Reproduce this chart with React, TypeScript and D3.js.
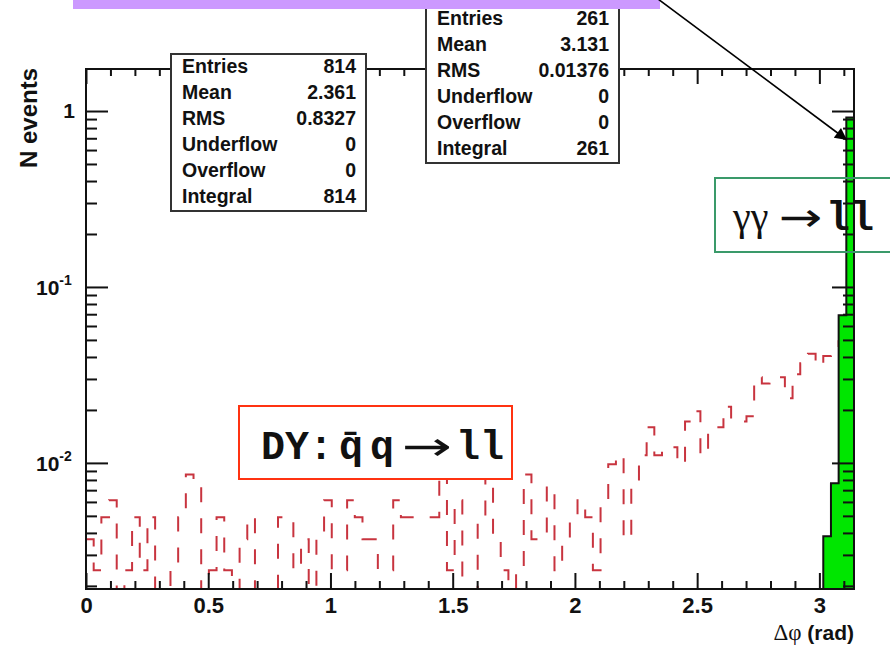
import React, { useRef, useEffect } from 'react';
import * as d3 from 'd3';

// 100 bins of width pi/100 on [0, pi]
const binCount = 100;

// DY: qq -> ll, counts per bin (drawn normalised to the integral)
const dyCounts = [
  3, 2, 4, 5, 1, 2, 4, 2, 4, 1,
  1, 2, 4, 7, 6, 1, 2, 4, 2, 1,
  3, 4, 1, 1, 1, 4, 4, 2, 3, 1,
  3, 5, 2, 2, 5, 4, 3, 3, 2, 2,
  5, 4, 4, 4, 4, 4, 9, 2, 5, 1,
  1, 4, 7, 3, 2, 1, 2, 7, 3, 3,
  6, 2, 3, 4, 5, 4, 2, 5, 8, 9,
  3, 6, 9, 13, 9, 10, 10, 8, 14, 16,
  9, 12, 13, 17, 14, 14, 15, 25, 23, 24,
  25, 19, 26, 30, 34, 29, 33, 36, 40, 42,
];

// gamma gamma -> ll, only the last bins are filled
const ggBins = [96, 97, 98, 99];
const ggCounts = [1, 2, 18, 240];

const xMajorTicks = [0, 0.5, 1, 1.5, 2, 2.5, 3];
const xTickLabels = ['0', '0.5', '1', '1.5', '2', '2.5', '3'];
const yMajorTicks = [1, 0.1, 0.01];
const yTickExponents = ['', '-1', '-2'];

const statLabels = ['Entries', 'Mean', 'RMS', 'Underflow', 'Overflow', 'Integral'];
const dyStatValues = ['814', '2.361', '0.8327', '0', '0', '814'];
const ggStatValues = ['261', '3.131', '0.01376', '0', '0', '261'];

const width = 890;
const height = 645;
const frame = { left: 86, right: 854, top: 69, bottom: 589 };
const sans = '"Liberation Sans", Arial, Helvetica, sans-serif';
const mono = '"Liberation Mono", "Courier New", monospace';
const serif = '"Liberation Serif", "Times New Roman", serif';

function App() {
  const svgRef = useRef<SVGSVGElement>(null);

  useEffect(() => {
    const svg = d3.select(svgRef.current);
    svg.selectAll('*').remove();

    const x = d3.scaleLinear().domain([0, Math.PI]).range([frame.left, frame.right]);
    const y = d3.scaleLog().domain([0.00192, 1.733]).range([frame.bottom, frame.top]);
    const yMin = y.domain()[0];
    const binWidth = Math.PI / binCount;

    const defs = svg.append('defs');
    defs
      .append('clipPath')
      .attr('id', 'plot-clip')
      .append('rect')
      .attr('x', frame.left)
      .attr('y', frame.top)
      .attr('width', frame.right - frame.left)
      .attr('height', frame.bottom - frame.top);
    defs
      .append('marker')
      .attr('id', 'arrowhead')
      .attr('viewBox', '0 0 10 10')
      .attr('refX', 10)
      .attr('refY', 5)
      .attr('markerUnits', 'userSpaceOnUse')
      .attr('markerWidth', 17)
      .attr('markerHeight', 12)
      .attr('orient', 'auto')
      .append('path')
      .attr('d', 'M0,0 L10,5 L0,10 z')
      .attr('fill', '#000');

    svg.append('rect').attr('width', width).attr('height', height).attr('fill', '#fff');

    const plot = svg.append('g').attr('clip-path', 'url(#plot-clip)');

    // DY histogram, dashed red outline
    const dyTotal = d3.sum(dyCounts);
    const dyPoints = dyCounts.map((c, i) => [i * binWidth, c / dyTotal]);
    dyPoints.push([binCount * binWidth, dyCounts[binCount - 1] / dyTotal]);
    const step = d3
      .line()
      .x((d) => x(d[0]))
      .y((d) => y(Math.max(d[1], yMin)))
      .curve(d3.curveStepAfter);
    plot
      .append('path')
      .attr('d', step(dyPoints as [number, number][]))
      .attr('fill', 'none')
      .attr('stroke', '#c8343f')
      .attr('stroke-width', 2)
      .attr('stroke-dasharray', '15 16');

    // gamma gamma histogram, green filled
    const ggTotal = d3.sum(ggCounts);
    const ggPoints = ggBins.map((b, i) => [b * binWidth, ggCounts[i] / ggTotal]);
    ggPoints.push([(ggBins[ggBins.length - 1] + 1) * binWidth, ggCounts[ggCounts.length - 1] / ggTotal]);
    const area = d3
      .area()
      .x((d) => x(d[0]))
      .y0(y(yMin))
      .y1((d) => y(Math.max(d[1], yMin)))
      .curve(d3.curveStepAfter);
    plot
      .append('path')
      .attr('d', area(ggPoints as [number, number][]))
      .attr('fill', '#00e600')
      .attr('stroke', '#111')
      .attr('stroke-width', 2);

    // axes: ROOT style ticks pointing inwards on all four sides
    const xMinor = d3.range(1, 32).filter((i) => i % 5 !== 0).map((i) => i / 10);
    const yMinor: number[] = [];
    [0.001, 0.01, 0.1, 1].forEach((dec) => {
      d3.range(2, 10).forEach((m) => {
        const v = dec * m;
        if (v >= yMin && v <= y.domain()[1]) yMinor.push(v);
      });
    });

    const styleAxis = (g: any) => {
      g.select('.domain').remove();
      g.selectAll('line').attr('stroke', '#111').attr('stroke-width', 2);
    };

    svg
      .append('g')
      .attr('transform', `translate(0,${frame.bottom})`)
      .call(d3.axisBottom(x).tickValues(xMajorTicks).tickSize(-16).tickFormat((d, i) => xTickLabels[i]))
      .call(styleAxis)
      .call((g: any) =>
        g
          .selectAll('text')
          .attr('y', 24)
          .attr('dy', 0)
          .attr('fill', '#111')
          .attr('font-family', sans)
          .attr('font-weight', 'bold')
          .attr('font-size', 22)
      );
    svg
      .append('g')
      .attr('transform', `translate(0,${frame.bottom})`)
      .call(d3.axisBottom(x).tickValues(xMinor).tickSize(-8).tickFormat(() => ''))
      .call(styleAxis);
    svg
      .append('g')
      .attr('transform', `translate(0,${frame.top})`)
      .call(d3.axisTop(x).tickValues(xMajorTicks).tickSize(-15).tickFormat(() => ''))
      .call(styleAxis);
    svg
      .append('g')
      .attr('transform', `translate(0,${frame.top})`)
      .call(d3.axisTop(x).tickValues(xMinor).tickSize(-7).tickFormat(() => ''))
      .call(styleAxis);

    [
      { axis: d3.axisLeft, at: frame.left },
      { axis: d3.axisRight, at: frame.right },
    ].forEach(({ axis, at }) => {
      svg
        .append('g')
        .attr('transform', `translate(${at},0)`)
        .call(axis(y).tickValues(yMajorTicks).tickSize(-22).tickFormat(() => ''))
        .call(styleAxis);
      svg
        .append('g')
        .attr('transform', `translate(${at},0)`)
        .call(axis(y).tickValues(yMinor).tickSize(-11).tickFormat(() => ''))
        .call(styleAxis);
    });

    // y tick labels with exponents
    yMajorTicks.forEach((v, i) => {
      const t = svg
        .append('text')
        .attr('font-family', sans)
        .attr('font-weight', 'bold')
        .attr('font-size', 21)
        .attr('fill', '#111');
      if (yTickExponents[i] === '') {
        t.attr('x', 75).attr('y', y(v) + 7).attr('text-anchor', 'end').text('1');
      } else {
        t.attr('x', 36).attr('y', y(v) + 8).text('10');
        t.append('tspan').attr('dy', -10).attr('font-size', 14).text(yTickExponents[i]);
      }
    });

    // frame
    svg
      .append('rect')
      .attr('x', frame.left)
      .attr('y', frame.top)
      .attr('width', frame.right - frame.left)
      .attr('height', frame.bottom - frame.top)
      .attr('fill', 'none')
      .attr('stroke', '#111')
      .attr('stroke-width', 2);

    // axis titles
    svg
      .append('text')
      .attr('transform', `translate(37,${frame.top - 1}) rotate(-90)`)
      .attr('text-anchor', 'end')
      .attr('font-family', sans)
      .attr('font-weight', 'bold')
      .attr('font-size', 24)
      .attr('fill', '#111')
      .text('N events');
    const xt = svg
      .append('text')
      .attr('x', frame.right)
      .attr('y', 640)
      .attr('text-anchor', 'end')
      .attr('font-size', 21)
      .attr('fill', '#111');
    xt.append('tspan').attr('font-family', serif).attr('font-size', 23).text('Δφ ');
    xt.append('tspan').attr('font-family', sans).attr('font-weight', 'bold').text('(rad)');

    // stats boxes
    const drawStats = (bx: number, by: number, bw: number, bh: number, values: string[]) => {
      const g = svg.append('g');
      g.append('rect')
        .attr('x', bx)
        .attr('y', by)
        .attr('width', bw)
        .attr('height', bh)
        .attr('fill', '#fff')
        .attr('stroke', '#333')
        .attr('stroke-width', 2);
      g.selectAll('text.label')
        .data(statLabels)
        .join('text')
        .attr('class', 'label')
        .attr('x', bx + 11)
        .attr('y', (d, i) => by + 19 + 26 * i)
        .text((d) => d);
      g.selectAll('text.value')
        .data(values)
        .join('text')
        .attr('class', 'value')
        .attr('x', bx + bw - 10)
        .attr('y', (d, i) => by + 19 + 26 * i)
        .attr('text-anchor', 'end')
        .text((d) => d);
      g.selectAll('text')
        .attr('font-family', sans)
        .attr('font-weight', 'bold')
        .attr('font-size', 19.5)
        .attr('fill', '#111');
    };
    drawStats(171, 54, 195, 157, dyStatValues);
    drawStats(426, 6, 193, 157, ggStatValues);

    // arrow glyph, stretched sideways like the wide symbol-font arrow
    const arrowText = (ax: number, ay: number, sx: number) =>
      svg
        .append('text')
        .attr('transform', `translate(${ax},${ay}) scale(${sx},1)`)
        .attr('font-family', '"DejaVu Sans", sans-serif')
        .attr('font-size', 40)
        .attr('fill', '#111')
        .text('→');

    // DY label box
    svg
      .append('rect')
      .attr('x', 239)
      .attr('y', 406)
      .attr('width', 273)
      .attr('height', 73)
      .attr('fill', '#fff')
      .attr('stroke', '#ff3311')
      .attr('stroke-width', 2);
    const dyText = svg
      .append('text')
      .attr('y', 459)
      .attr('font-size', 40)
      .attr('font-family', mono)
      .attr('font-weight', 'bold')
      .attr('fill', '#111');
    dyText.append('tspan').attr('x', 261).text('DY:');
    dyText.append('tspan').attr('x', 339).text('q̄');
    dyText.append('tspan').attr('x', 370).text('q');
    arrowText(402, 460, 1.5);
    svg
      .append('text')
      .attr('x', 456)
      .attr('y', 459)
      .attr('font-size', 40)
      .attr('font-family', mono)
      .attr('font-weight', 'bold')
      .attr('fill', '#111')
      .text('ll');

    // gamma gamma label box
    svg
      .append('rect')
      .attr('x', 715)
      .attr('y', 178)
      .attr('width', 190)
      .attr('height', 74)
      .attr('fill', 'none')
      .attr('stroke', '#3a9a6a')
      .attr('stroke-width', 2);
    svg
      .append('text')
      .attr('x', 733)
      .attr('y', 230)
      .attr('font-size', 40)
      .attr('font-family', serif)
      .attr('fill', '#111')
      .text('γγ');
    arrowText(779, 231, 1.3);
    svg
      .append('text')
      .attr('x', 826)
      .attr('y', 230)
      .attr('font-size', 40)
      .attr('font-family', mono)
      .attr('font-weight', 'bold')
      .attr('fill', '#111')
      .text('ll');

    // purple banner at the top and the arrow
    svg.append('rect').attr('x', 73).attr('y', -2).attr('width', 587).attr('height', 11).attr('fill', '#cc99ff');
    svg
      .append('line')
      .attr('x1', 658)
      .attr('y1', -1)
      .attr('x2', 847)
      .attr('y2', 140)
      .attr('stroke', '#000')
      .attr('stroke-width', 1.6)
      .attr('marker-end', 'url(#arrowhead)');
  }, []);

  return (
    <svg
      ref={svgRef}
      width={width}
      height={height}
      style={{ position: 'absolute', left: 0, top: 0 }}
    ></svg>
  );
}

export default App;
